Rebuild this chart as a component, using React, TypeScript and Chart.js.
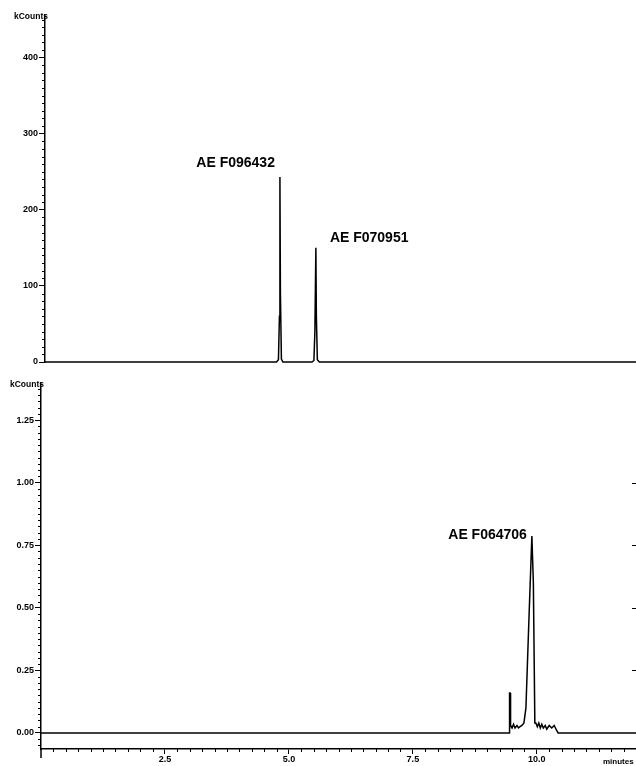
import React, { useEffect, useRef } from "react";
import { Chart, registerables } from "chart.js";

Chart.register(...registerables);

// ---------- data ----------
const topTimes = [0, 1.0, 2.5, 4.0, 4.70, 4.74, 4.76, 4.77, 4.78, 4.80, 4.83, 5.0, 5.42, 5.46, 5.48, 5.50, 5.51, 5.53, 5.57, 7.0, 9.0, 12.0];
const topCounts = [0, 0, 0, 0, 0, 3, 60, 243, 90, 4, 0, 0, 0, 2, 40, 150, 60, 3, 0, 0, 0, 0];

const bottomTimes = [0, 2.0, 5.0, 8.0, 9.44, 9.45, 9.46, 9.47, 9.50, 9.53, 9.56, 9.60, 9.63, 9.66, 9.70, 9.74, 9.78, 9.84, 9.90, 9.93, 9.96, 9.98, 10.01, 10.04, 10.07, 10.10, 10.13, 10.17, 10.20, 10.25, 10.30, 10.35, 10.40, 10.43, 11.0, 12.0];
const bottomCounts = [0, 0, 0, 0, 0, 0.16, 0.16, 0.03, 0.02, 0.035, 0.02, 0.03, 0.02, 0.025, 0.03, 0.04, 0.1, 0.45, 0.787, 0.6, 0.04, 0.04, 0.025, 0.04, 0.02, 0.035, 0.02, 0.03, 0.015, 0.03, 0.02, 0.03, 0.01, 0, 0, 0];

const topYTicks = [0, 100, 200, 300, 400];
const bottomYTicks = [0, 0.25, 0.5, 0.75, 1.0, 1.25];
const bottomRightTicks = [0.25, 0.5, 0.75, 1.0];
const xTicks = [2.5, 5.0, 7.5, 10.0];

const topPeakNames = ["AE F096432", "AE F070951"];
const topPeakTimes = [4.77, 5.5];
const topPeakHeights = [243, 150];
const bottomPeakNames = ["AE F064706"];
const bottomPeakTimes = [9.9];
const bottomPeakHeights = [0.787];

// label styling (offsets in px relative to the peak apex)
const topLabelStyle = [
  { align: "right", dx: -5, dy: -14 },
  { align: "left", dx: 14, dy: -10 },
];
const bottomLabelStyle = [{ align: "right", dx: -5, dy: -1 }];

const FONT = "'Liberation Sans', Arial, sans-serif";

type PanelCfg = {
  times: number[];
  counts: number[];
  yMin: number;
  yMax: number;
  yTicks: number[];
  yMinor: number;
  yFmt: (v: number) => string;
  leftWidth: number;
  padTop: number;
  padBottom: number;
  showX: boolean;
  xAxisHeight: number;
  names: string[];
  peakT: number[];
  peakH: number[];
  labelStyle: { align: string; dx: number; dy: number }[];
  rightTicks: number[];
  yExtend: number;
};

function makeChart(canvas: HTMLCanvasElement, c: PanelCfg) {
  const deco = {
    id: "deco",
    afterDraw(chart: any) {
      const ctx = chart.ctx as CanvasRenderingContext2D;
      const { left, right, top, bottom } = chart.chartArea;
      const ys = chart.scales.y;
      const xs = chart.scales.x;
      ctx.save();
      ctx.strokeStyle = "#000";
      ctx.fillStyle = "#000";
      ctx.lineWidth = 1;
      // minor y ticks
      const n = Math.round((c.yMax - c.yMin) / c.yMinor) + 2;
      for (let i = 0; i < n; i++) {
        const v = Math.ceil(c.yMin / c.yMinor) * c.yMinor + i * c.yMinor;
        if (v > c.yMax) break;
        if (c.yTicks.some((t) => Math.abs(t - v) < 1e-9)) continue;
        const py = Math.round(ys.getPixelForValue(v)) + 0.5;
        ctx.beginPath();
        ctx.moveTo(left - 3, py);
        ctx.lineTo(left, py);
        ctx.stroke();
      }
      // right ticks
      for (const v of c.rightTicks) {
        const py = Math.round(ys.getPixelForValue(v)) + 0.5;
        ctx.beginPath();
        ctx.moveTo(right - 4, py);
        ctx.lineTo(right, py);
        ctx.stroke();
      }
      // y axis extension
      if (c.yExtend > 0) {
        ctx.lineWidth = 1.5;
        ctx.beginPath();
        ctx.moveTo(left, bottom);
        ctx.lineTo(left, bottom + c.yExtend);
        ctx.stroke();
        ctx.lineWidth = 1;
      }
      // minor x ticks
      if (c.showX) {
        for (let i = 1; i < 48; i++) {
          const v = i * 0.25;
          if (xTicks.some((t) => Math.abs(t - v) < 1e-9)) continue;
          const px = Math.round(xs.getPixelForValue(v)) + 0.5;
          ctx.beginPath();
          ctx.moveTo(px, bottom);
          ctx.lineTo(px, bottom + 3);
          ctx.stroke();
        }
        ctx.font = `bold 8px ${FONT}`;
        ctx.textAlign = "left";
        ctx.textBaseline = "middle";
        ctx.fillText("minutes", right - 33, bottom + 13);
      }
      // kCounts label
      ctx.font = `bold 8.5px ${FONT}`;
      ctx.textAlign = "right";
      ctx.textBaseline = "middle";
      ctx.fillText("kCounts", left + 3, top + 2);
      // peak names
      ctx.font = `bold 14px ${FONT}`;
      ctx.textBaseline = "middle";
      c.names.forEach((name, i) => {
        const st = c.labelStyle[i];
        const px = xs.getPixelForValue(c.peakT[i]);
        const py = ys.getPixelForValue(c.peakH[i]);
        ctx.textAlign = st.align as CanvasTextAlign;
        ctx.fillText(name, px + st.dx, py + st.dy);
      });
      ctx.restore();
    },
  };

  return new Chart(canvas, {
    type: "line",
    data: {
      datasets: [
        {
          data: c.times.map((t, i) => ({ x: t, y: c.counts[i] })),
          borderColor: "#000",
          borderWidth: 1.5,
          pointRadius: 0,
          tension: 0,
          fill: false,
          clip: false as any,
        },
      ],
    },
    options: {
      animation: false,
      responsive: false,
      devicePixelRatio: 1,
      layout: { padding: { left: 0, right: 0, top: c.padTop, bottom: c.padBottom } },
      plugins: { legend: { display: false }, tooltip: { enabled: false } },
      scales: {
        x: {
          type: "linear",
          min: 0,
          max: 12,
          display: c.showX,
          afterBuildTicks: (s: any) => {
            s.ticks = xTicks.map((v) => ({ value: v }));
          },
          afterFit: (s: any) => {
            s.height = c.xAxisHeight;
          },
          ticks: {
            color: "#000",
            font: { family: FONT, size: 9, weight: "bold" },
            padding: 0,
            maxRotation: 0,
            autoSkip: false,
            callback: (v: any) => Number(v).toFixed(1),
          },
          grid: { drawOnChartArea: false, drawTicks: true, tickLength: 5, color: "#000", lineWidth: 1 },
          border: { display: true, color: "#000", width: 1.5 },
        },
        y: {
          type: "linear",
          min: c.yMin,
          max: c.yMax,
          afterBuildTicks: (s: any) => {
            s.ticks = c.yTicks.map((v) => ({ value: v }));
          },
          afterFit: (s: any) => {
            s.width = c.leftWidth;
          },
          ticks: {
            color: "#000",
            font: { family: FONT, size: 9, weight: "bold" },
            padding: 1,
            autoSkip: false,
            callback: (v: any) => c.yFmt(Number(v)),
          },
          grid: { drawOnChartArea: false, drawTicks: true, tickLength: 6, color: "#000", lineWidth: 1 },
          border: { display: true, color: "#000", width: 1.5 },
        },
      },
    },
    plugins: [deco],
  } as any);
}

export default function App() {
  const topRef = useRef<HTMLCanvasElement>(null);
  const botRef = useRef<HTMLCanvasElement>(null);

  useEffect(() => {
    const top = makeChart(topRef.current!, {
      times: topTimes,
      counts: topCounts,
      yMin: 0,
      yMax: 456,
      yTicks: topYTicks,
      yMinor: 10,
      yFmt: (v) => String(Math.round(v)),
      leftWidth: 45,
      padTop: 15,
      padBottom: 10,
      showX: false,
      xAxisHeight: 0,
      names: topPeakNames,
      peakT: topPeakTimes,
      peakH: topPeakHeights,
      labelStyle: topLabelStyle,
      rightTicks: [],
      yExtend: 0,
    });
    const bot = makeChart(botRef.current!, {
      times: bottomTimes,
      counts: bottomCounts,
      yMin: -0.064,
      yMax: 1.398,
      yTicks: bottomYTicks,
      yMinor: 0.025,
      yFmt: (v) => v.toFixed(2),
      leftWidth: 41,
      padTop: 11,
      padBottom: 0,
      showX: true,
      xAxisHeight: 17,
      names: bottomPeakNames,
      peakT: bottomPeakTimes,
      peakH: bottomPeakHeights,
      labelStyle: bottomLabelStyle,
      rightTicks: bottomRightTicks,
      yExtend: 9,
    });
    return () => {
      top.destroy();
      bot.destroy();
    };
  }, []);

  return (
    <div style={{ position: "fixed", left: 0, top: 0, width: 636, height: 766, background: "#fff" }}>
      <canvas ref={topRef} width={636} height={372} style={{ position: "absolute", left: 0, top: 0, display: "block" }} />
      <canvas ref={botRef} width={636} height={394} style={{ position: "absolute", left: 0, top: 372, display: "block" }} />
    </div>
  );
}
